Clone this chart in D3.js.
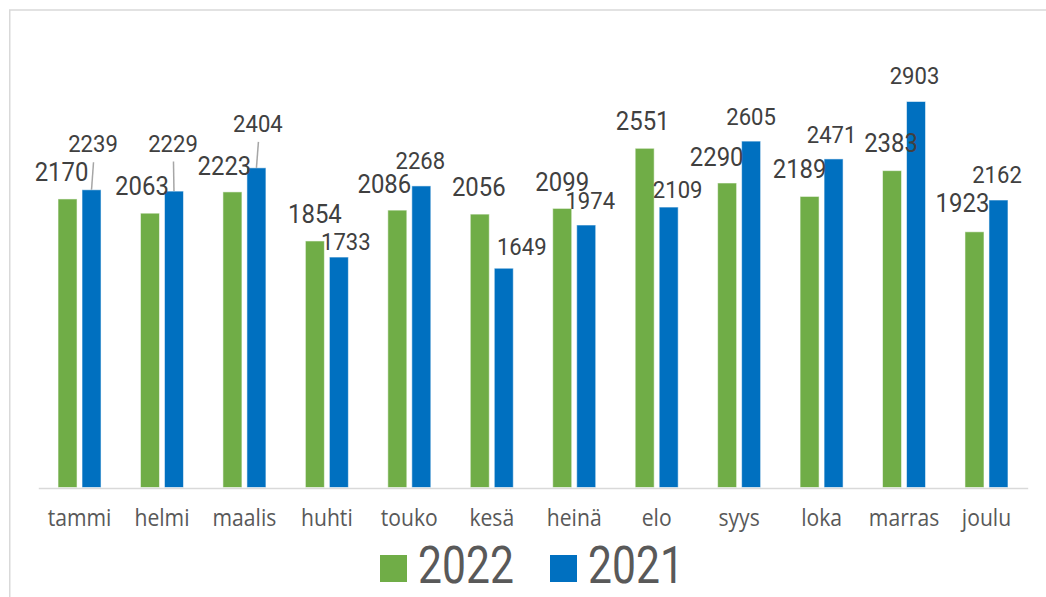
<!DOCTYPE html>
<html>
<head>
<meta charset="utf-8">
<script src="https://cdn.jsdelivr.net/npm/d3@7/dist/d3.min.js"></script>
<style>
  html, body { margin: 0; padding: 0; background: #ffffff; }
  svg { display: block; }
</style>
</head>
<body>
<svg id="chart" width="1046" height="597"></svg>
<script>
// Monthly counts, 2022 vs 2021
const months = ["tammi", "helmi", "maalis", "huhti", "touko", "kesä", "heinä", "elo", "syys", "loka", "marras", "joulu"];
const seriesNames = ["2022", "2021"];
const values2022 = [2170, 2063, 2223, 1854, 2086, 2056, 2099, 2551, 2290, 2189, 2383, 1923];
const values2021 = [2239, 2229, 2404, 1733, 2268, 1649, 1974, 2109, 2605, 2471, 2903, 2162];
const yDomain = [0, 3500];

// Hand-placed label offsets from the top centre of each bar [dx, dy] (px)
const labelShift2022 = [[-6, -27], [-8, -27], [-8, -26.5], [0, -27], [-13, -26], [-1, -27], [0, -27], [-2, -27], [-10.5, -26.5], [-10, -28], [-1, -27.5], [-12, -29]];
const labelShift2021 = [[1.5, -46], [-1, -48], [1.5, -44.5], [7, -15.5], [-1, -25], [18, -22], [4, -24.5], [9, -18], [0, -25], [-2, -24.5], [-1.5, -25.5], [-1.5, -25.5]];
// Labels pulled far enough to need a leader line
const leaderIdx2021 = [0, 1, 2];

const colors = { "2022": "#70AD47", "2021": "#0070C0" };

const svg = d3.select("#chart");

// Chart frame
svg.append("rect")
  .attr("x", 9.75).attr("y", 10)
  .attr("width", 1200).attr("height", 800)
  .attr("fill", "none")
  .attr("stroke", "#d9d9d9")
  .attr("stroke-width", 1.5);

const plot = { left: 38.3, right: 1027.7, top: 22.1, bottom: 487.5 };

const x0 = d3.scaleBand()
  .domain(months)
  .range([plot.left, plot.right])
  .paddingInner(0.4785)
  .paddingOuter(0.23925);

const x1 = d3.scaleBand()
  .domain(seriesNames)
  .range([0, x0.bandwidth()])
  .paddingInner(0.2083);

const y = d3.scaleLinear().domain(yDomain).range([plot.bottom, plot.top]);

const rows = months.map((m, i) => ({
  month: m,
  items: [
    { key: "2022", value: values2022[i], shift: labelShift2022[i], leader: false },
    { key: "2021", value: values2021[i], shift: labelShift2021[i], leader: leaderIdx2021.includes(i) }
  ]
}));

// Bars
const groups = svg.append("g")
  .selectAll("g")
  .data(rows)
  .join("g")
  .attr("transform", d => `translate(${x0(d.month)},0)`);

groups.selectAll("rect")
  .data(d => d.items)
  .join("rect")
  .attr("x", d => x1(d.key))
  .attr("y", d => y(d.value))
  .attr("width", x1.bandwidth())
  .attr("height", d => y(0) - y(d.value))
  .attr("fill", d => colors[d.key])
  .attr("stroke", "rgba(255,255,255,0.55)")
  .attr("stroke-width", 1);

// Category axis
const xAxis = svg.append("g")
  .attr("transform", `translate(0,${plot.bottom + 0.5})`)
  .call(d3.axisBottom(x0).tickSize(0).tickPadding(0));
xAxis.select(".domain")
  .attr("stroke", "#d9d9d9")
  .attr("stroke-width", 1.5);
xAxis.selectAll(".tick text")
  .attr("y", 0)
  .attr("dy", 0)
  .attr("transform", "translate(0,38) scale(0.88,1)")
  .attr("fill", "#595959")
  .attr("font-family", "'Open Sans', sans-serif")
  .attr("font-size", 24)
  .attr("text-anchor", "middle");

// Value labels and leader lines
const labelStyle = {
  "2022": { size: 26, cap: 9.2 },
  "2021": { size: 24, cap: 8.5 }
};

const labelLayer = svg.append("g");
rows.forEach(r => {
  r.items.forEach(it => {
    const bx = x0(r.month) + x1(it.key) + x1.bandwidth() / 2;
    const by = y(it.value);
    const cx = bx + it.shift[0];
    const cy = by + it.shift[1];
    const st = labelStyle[it.key];
    if (it.leader) {
      labelLayer.append("line")
        .attr("x1", cx + 0.5)
        .attr("y1", cy + st.cap + 10)
        .attr("x2", bx)
        .attr("y2", by)
        .attr("stroke", "#a6a6a6")
        .attr("stroke-width", 1.5);
    }
    labelLayer.append("text")
      .attr("transform", `translate(${cx},${cy + st.cap}) scale(0.92,1)`)
      .attr("text-anchor", "middle")
      .attr("font-family", "Roboto, sans-serif")
      .attr("font-size", st.size)
      .attr("fill", "#404040")
      .text(d3.format("d")(it.value));
  });
});

// Legend
const legendPos = { "2022": 380, "2021": 550 };
const legend = svg.append("g")
  .selectAll("g")
  .data(seriesNames)
  .join("g")
  .attr("transform", d => `translate(${legendPos[d]},555)`);
legend.append("rect")
  .attr("width", 27).attr("height", 27)
  .attr("fill", d => colors[d]);
legend.append("text")
  .attr("transform", "translate(38,28) scale(0.82,1)")
  .attr("font-family", "Roboto, sans-serif")
  .attr("font-size", 52)
  .attr("fill", "#595959")
  .text(d => d);
</script>
</body>
</html>
